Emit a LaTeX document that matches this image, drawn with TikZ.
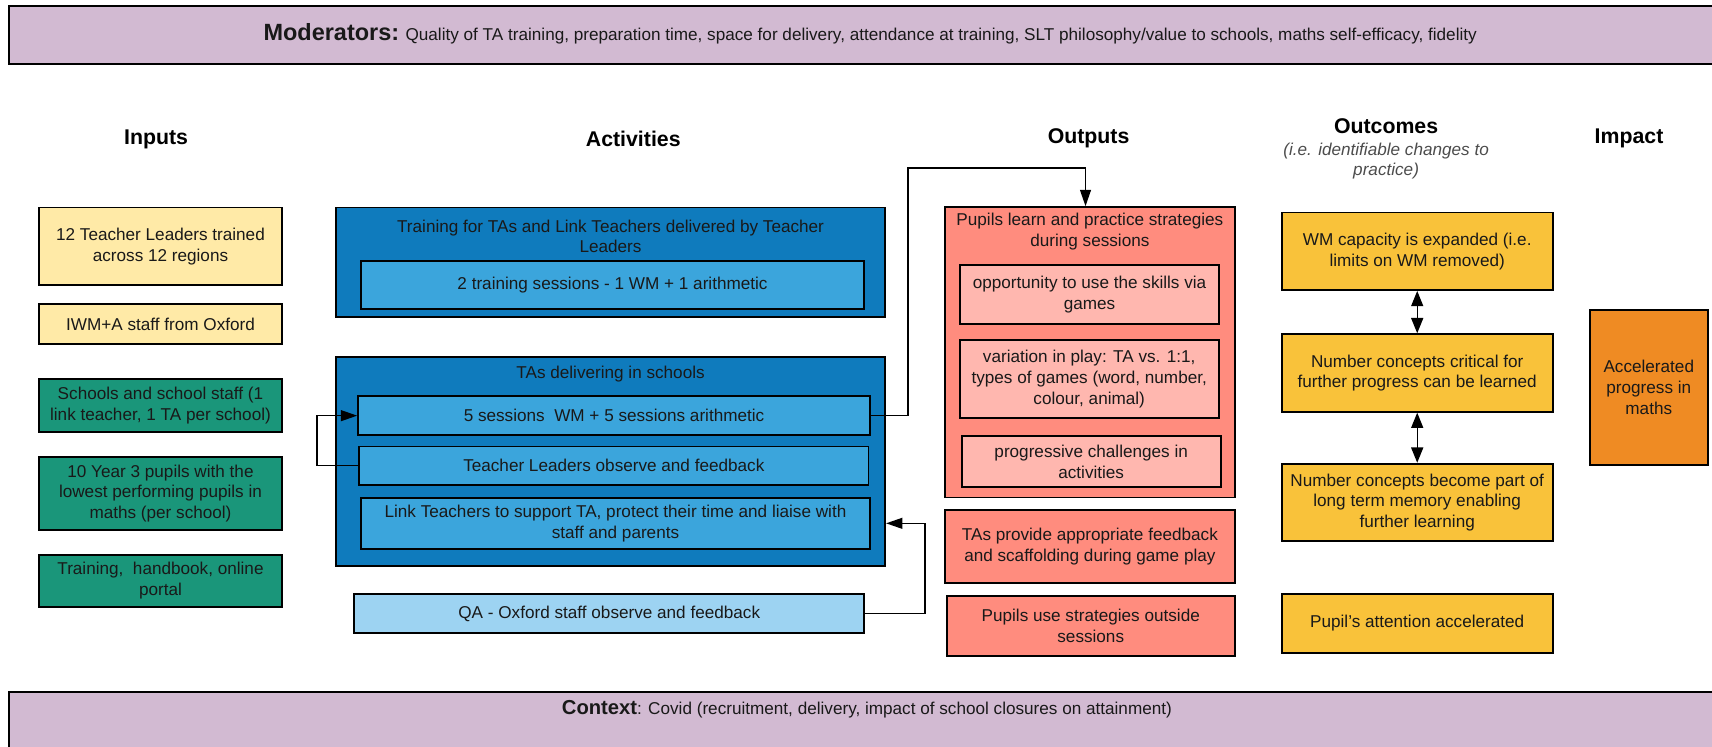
\documentclass[tikz,border=0pt]{standalone}
\usepackage{fontspec}
\setmainfont{Liberation Sans}
\usetikzlibrary{arrows.meta, positioning, calc}

\definecolor{bandpurple}{HTML}{D2BAD2}
\definecolor{inyellow}{HTML}{FFEAA7}
\definecolor{inteal}{HTML}{1A967A}
\definecolor{actdark}{HTML}{0F7BBD}
\definecolor{actmid}{HTML}{3BA5DC}
\definecolor{qablue}{HTML}{9DD3F2}
\definecolor{outsalmon}{HTML}{FF8C7E}
\definecolor{outpink}{HTML}{FFB7AF}
\definecolor{ocgold}{HTML}{F9C23A}
\definecolor{imporange}{HTML}{EF8B23}

\newcommand\bodyfont{\fontsize{15.7}{19}\selectfont}
\newcommand\headfont{\fontsize{19.5}{23}\selectfont\bfseries}

\begin{document}
\begin{tikzpicture}[
        x=1pt, y=-1pt,
        box/.style={draw, line width=1.7pt, align=center, inner sep=0pt, font=\bodyfont, text=black!90},
        inbox/.style={box, minimum width=223},
        actbox/.style={box, fill=actmid},
        outbox/.style={box, fill=outpink, minimum width=237},
        ocbox/.style={box, fill=ocgold, minimum width=248, minimum height=71},
        band/.style={draw, line width=1.8pt, fill=bandpurple, inner sep=0pt, anchor=north west, minimum width=1580},
        head/.style={font=\headfont, inner sep=0pt},
        title/.style={align=center, inner sep=0pt, font=\bodyfont, text=black!90},
        arr/.style={-{Triangle[length=15pt,width=10pt]}, line width=1.3pt},
        dbl/.style={{Triangle[length=14pt,width=11pt]}-{Triangle[length=14pt,width=11pt]}, line width=1.3pt}
    ]
    \useasboundingbox (0,0) rectangle (1568,684);

    % Bands
    \node[band, minimum height=52.5] (modband) at (7,5) {};
    \node[title] (mods) at (797,31) {{\bfseries\fontsize{21.5}{24}\selectfont Moderators:} Quality of TA training, preparation time, space for delivery, attendance at training, SLT philosophy/value to schools, maths self-efficacy, fidelity};
    \node[band, minimum height=90] (ctxband) at (7,633) {};
    \node[title] (ctx) at (794,650) {{\bfseries\fontsize{18.5}{22}\selectfont Context}: Covid (recruitment, delivery, impact of school closures on attainment)};

    % Headings
    \node[head] (hin) at (143,127.5) {Inputs};
    \node[head] (hact) at (580,127) {Activities};
    \node[head] (hout) at (997,126.5) {Outputs};
    \node[head] (hoc) at (1269.5,116) {Outcomes};
    \node[title, font=\bodyfont\itshape, text=black!70] (hocsub) at (1269.5,147.6) {(i.e. identifiable changes to\\practice)};
    \node[head] (himp) at (1492,127) {Impact};

    % Inputs
    \node[inbox, fill=inyellow, minimum height=71] (in1) at (147,225.5) {12 Teacher Leaders trained\\across 12 regions};
    \node[inbox, fill=inyellow, minimum height=36.5] (in2) at (147,296.7) {IWM+A staff from Oxford};
    \node[inbox, fill=inteal, minimum height=48] (in3) at (147,371.5) {Schools and school staff (1\\link teacher, 1 TA per school)};
    \node[inbox, fill=inteal, minimum height=67] (in4) at (147,452) {10 Year 3 pupils with the\\lowest performing pupils in\\maths (per school)};
    \node[inbox, fill=inteal, minimum height=48] (in5) at (147,532) {Training,\ \ handbook, online\\portal};

    % Activities
    \node[box, fill=actdark, minimum width=503, minimum height=100] (train) at (559.2,240) {};
    \node[title] (traintitle) at (559.2,216.5) {Training for TAs and Link Teachers delivered by Teacher\\Leaders};
    \node[actbox, minimum width=460, minimum height=44] (sess) at (561,261) {2 training sessions - 1 WM + 1 arithmetic};
    \node[box, fill=actdark, minimum width=503, minimum height=191.4] (deliv) at (559.2,422.7) {};
    \node[title] (delivtitle) at (559.2,343) {TAs delivering in schools};
    \node[actbox, minimum width=468.8, minimum height=35.4] (d1) at (562.4,380.7) {5 sessions\ \ WM + 5 sessions arithmetic};
    \node[actbox, minimum width=466.4, minimum height=35.2] (d2) at (562.2,426.6) {Teacher Leaders observe and feedback};
    \node[actbox, minimum width=466, minimum height=47] (d3) at (563.7,479.3) {Link Teachers to support TA, protect their time and liaise with\\staff and parents};
    \node[box, fill=qablue, minimum width=466.8, minimum height=35.2] (qa) at (558,561.9) {QA - Oxford staff observe and feedback};

    % Outputs
    \node[box, fill=outsalmon, minimum width=265.5, minimum height=266] (pupils) at (998.2,322.7) {};
    \node[title] (pupilstitle) at (998.2,211.8) {Pupils learn and practice strategies\\during sessions};
    \node[outbox, minimum height=53.8] (o1) at (997.9,269.9) {opportunity to use the skills via\\games};
    \node[outbox, minimum height=71.4] (o2) at (997.6,347.1) {variation in play: TA vs. 1:1,\\types of games (word, number,\\colour, animal)};
    \node[outbox, minimum height=46.2] (o3) at (999.4,422.8) {progressive challenges in\\activities};
    \node[box, fill=outsalmon, minimum width=265.5, minimum height=67] (o4) at (998.2,500.5) {TAs provide appropriate feedback\\and scaffolding during game play};
    \node[box, fill=outsalmon, minimum width=264, minimum height=55.3] (o5) at (999,573.2) {Pupils use strategies outside\\sessions};

    % Outcomes
    \node[ocbox] (c1) at (1298,230.1) {WM capacity is expanded (i.e.\\limits on WM removed)};
    \node[ocbox] (c2) at (1298,341.6) {Number concepts critical for\\further progress can be learned};
    \node[ocbox] (c3) at (1298,460.2) {Number concepts become part of\\long term memory enabling\\further learning};
    \node[ocbox, minimum height=54] (c4) at (1298,571) {Pupil's attention accelerated};

    % Impact
    \node[box, fill=imporange, minimum width=107.7, minimum height=142.4] (imp) at (1510.1,354.8) {Accelerated\\progress in\\maths};

    % Lines
    \draw[arr] (d2.west) -- ++(-38,0) |- (d1.west);
    \coordinate (turn) at (831.5,153.8);
    \draw[arr] (d1.east) -| (turn) -| ([xshift=-4pt]pupils.north);
    \draw[arr] (qa.east) -- ++(55,0) |- (deliv.east |- d3);
    \draw[dbl] (c1) -- (c2);
    \draw[dbl] (c2) -- (c3);
\end{tikzpicture}
\end{document}
